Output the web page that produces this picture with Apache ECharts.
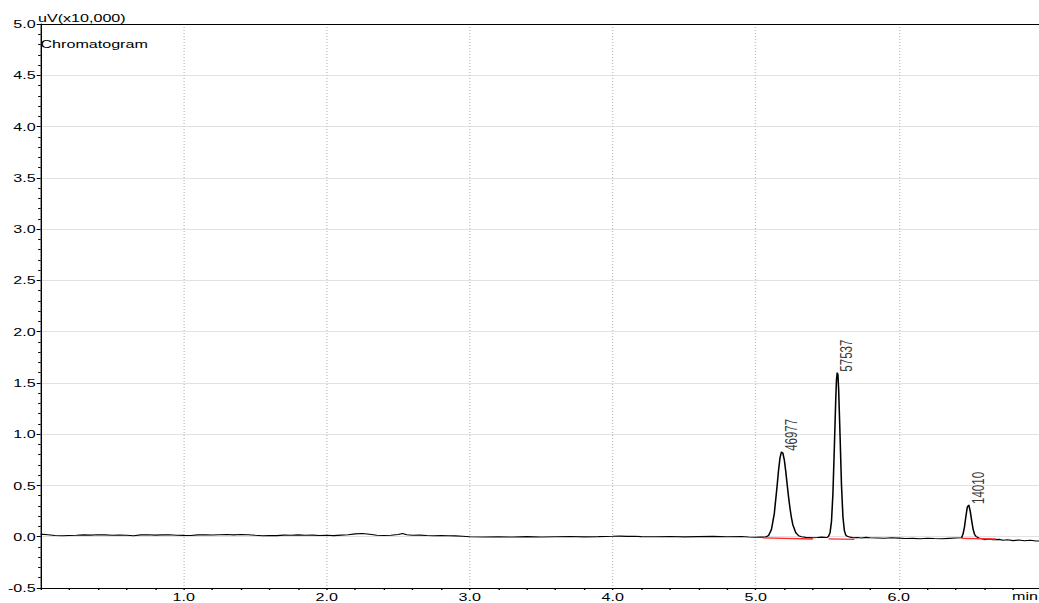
<!DOCTYPE html>
<html><head><meta charset="utf-8">
<script src="https://cdn.jsdelivr.net/npm/echarts@6/dist/echarts.min.js"></script>
<style>
html,body{margin:0;padding:0;background:#fff;overflow:hidden;}
#wrap{width:1039px;height:603px;overflow:hidden;position:relative;}
#chart{width:742px;height:603px;transform:scaleX(1.400270);transform-origin:0 0;}
</style></head><body>
<div id="wrap"><div id="chart"></div></div>
<script>
// ---- data (time in min, signal in uV x10,000) ----
const times = [
0.00,0.05,0.10,0.15,0.20,0.25,0.30,0.35,0.40,0.45,0.50,0.55,0.60,0.65,0.70,0.75,0.80,0.85,0.90,0.95,
1.00,1.05,1.10,1.15,1.20,1.25,1.30,1.35,1.40,1.45,1.50,1.55,1.60,1.65,1.70,1.75,1.80,1.85,1.90,1.95,
2.00,2.05,2.10,2.15,2.20,2.25,2.30,2.35,2.40,2.45,2.50,2.53,2.56,2.60,2.65,2.70,2.75,2.80,2.85,2.90,2.95,
3.00,3.10,3.20,3.30,3.40,3.50,3.60,3.70,3.80,3.90,
4.00,4.05,4.10,4.15,4.20,4.30,4.40,4.50,4.60,4.70,4.80,4.90,4.95,
5.00,5.03,5.05,5.07,5.09,5.11,5.13,5.15,5.16,5.17,5.18,5.19,5.20,5.21,5.22,5.23,5.24,5.25,5.26,5.28,5.30,5.32,5.35,
5.40,5.43,5.46,5.48,5.50,5.51,5.52,5.53,5.54,5.55,5.56,5.565,5.57,5.575,5.58,5.59,5.60,5.61,5.62,5.63,5.64,5.66,5.68,
5.71,5.74,5.77,5.80,5.85,5.90,5.95,
6.00,6.05,6.10,6.15,6.20,6.25,6.30,6.35,6.40,6.44,6.45,6.46,6.47,6.48,6.49,6.50,6.51,6.52,6.53,6.54,6.56,6.58,
6.60,6.63,6.66,6.70,6.73,6.76,6.80,6.84,6.88,6.92,6.96,7.00
];
const signal = [
0.025,0.020,0.012,0.010,0.012,0.014,0.018,0.016,0.020,0.018,0.015,0.017,0.014,0.010,0.018,0.020,0.016,0.018,0.020,0.015,
0.013,0.012,0.018,0.020,0.017,0.020,0.021,0.018,0.022,0.020,0.014,0.010,0.012,0.011,0.016,0.014,0.018,0.015,0.016,0.012,
0.014,0.011,0.016,0.020,0.028,0.032,0.024,0.015,0.012,0.014,0.022,0.032,0.020,0.014,0.016,0.012,0.010,0.012,0.009,0.008,0.004,
0.000,-0.002,0.000,-0.003,0.001,-0.002,0.000,0.002,-0.001,0.001,
0.004,0.006,0.003,0.005,0.001,0.000,0.002,-0.001,0.001,0.003,0.000,0.002,-0.002,
-0.005,-0.004,-0.004,-0.002,0.012,0.070,0.225,0.500,0.650,0.770,0.828,0.815,0.750,0.640,0.510,0.385,0.275,0.185,0.115,0.040,0.010,0.000,-0.006,
-0.010,-0.008,-0.004,-0.006,-0.008,0.006,0.040,0.150,0.420,0.870,1.350,1.530,1.600,1.580,1.440,0.980,0.500,0.195,0.060,0.015,0.004,-0.004,-0.010,
-0.008,-0.012,-0.006,-0.010,-0.012,-0.015,-0.010,
-0.014,-0.018,-0.016,-0.020,-0.015,-0.018,-0.020,-0.016,-0.012,-0.010,0.028,0.095,0.200,0.290,0.310,0.250,0.160,0.075,0.025,0.004,-0.012,-0.020,
-0.028,-0.022,-0.030,-0.026,-0.035,-0.030,-0.038,-0.032,-0.040,-0.035,-0.042,-0.040
];
// peak apex and area labels
const peakTimes   = [5.18, 5.57, 6.49];
const peakHeights = [0.828, 1.600, 0.310];
const peakAreas   = ['46977', '57537', '14010'];
// integration baselines: [startTime, startValue, endTime, endValue]
const peakBaselines = [
  [5.05, -0.012, 5.40, -0.022],
  [5.51, -0.020, 5.69, -0.026],
  [6.44, -0.016, 6.68, -0.022]
];
const xTickLabels = ['', '1.0', '2.0', '3.0', '4.0', '5.0', '6.0', ''];
const yLabelDecimals = 1;

// ---- layout (inner frame is stretched horizontally by S) ----
const S = 1039 / 742;
const ix = px => px / S;
const FONT = "'Liberation Sans', Arial, sans-serif";
const FS = 11.5;

const chart = echarts.init(document.getElementById('chart'), null, {renderer: 'svg'});

const redSeries = peakBaselines.map(b => ({
  type: 'line', data: [[b[0], b[1]], [b[2], b[3]]],
  symbol: 'none', silent: true, z: 5,
  lineStyle: {color: '#ff2a2a', width: 1.3}
}));

chart.setOption({
  animation: false,
  backgroundColor: '#fff',
  grid: {left: ix(40.7), top: 24, width: ix(1001), height: 564, containLabel: false, outerBoundsMode: 'none'},
  xAxis: [{
    type: 'value', min: 0, max: 7, interval: 1, position: 'bottom',
    axisLine: {show: true, onZero: false, lineStyle: {color: '#000', width: 1}},
    axisTick: {show: true, length: 2, lineStyle: {color: '#000'}},
    minorTick: {show: true, splitNumber: 5, length: 2, lineStyle: {color: '#000'}},
    axisLabel: {color: '#000', fontFamily: FONT, fontSize: FS, margin: 2.5,
      formatter: v => xTickLabels[Math.round(v)] || ''},
    splitLine: {show: true, lineStyle: {color: '#c4c4c4', type: [1, 2], width: 1}}
  }, {
    type: 'value', min: 0, max: 7, position: 'top',
    axisLine: {show: true, onZero: false, lineStyle: {color: '#000', width: 1}},
    axisTick: {show: false}, axisLabel: {show: false}, splitLine: {show: false}
  }],
  yAxis: {
    type: 'value', min: -0.5, max: 5, interval: 0.5,
    axisLine: {show: true, onZero: false, lineStyle: {color: '#000', width: 1}},
    axisTick: {show: true, length: ix(4), lineStyle: {color: '#000'}},
    minorTick: {show: true, splitNumber: 5, length: ix(2.5), lineStyle: {color: '#000'}},
    axisLabel: {color: '#000', fontFamily: FONT, fontSize: FS, margin: ix(5),
      formatter: v => v.toFixed(yLabelDecimals)},
    splitLine: {show: true, lineStyle: {color: '#e2e2e2', width: 1}}
  },
  graphic: [
    {type: 'text', x: ix(38), y: 18, style: {text: 'uV(x10,000)', font: FS + 'px ' + FONT, fill: '#000', align: 'left', verticalAlign: 'middle'}},
    {type: 'text', x: ix(40.5), y: 44, style: {text: 'Chromatogram', font: FS + 'px ' + FONT, fill: '#000', align: 'left', verticalAlign: 'middle'}},
    {type: 'text', x: ix(1038), y: 596, style: {text: 'min', font: FS + 'px ' + FONT, fill: '#000', align: 'right', verticalAlign: 'middle'}}
  ],
  series: [{
    type: 'line', data: times.map((t, i) => [t, signal[i]]),
    symbol: 'none', silent: true, z: 4,
    lineStyle: {color: '#000', width: 1.1}
  }].concat(redSeries).concat([{
    type: 'scatter', z: 6, silent: true,
    data: peakTimes.map((t, i) => [t, peakHeights[i], peakAreas[i]]),
    symbolSize: 2, itemStyle: {color: 'rgba(0,0,0,0)'},
    label: {show: true, formatter: p => p.data[2], position: [1 + ix(9.5), 0],
      rotate: 90, align: 'left', verticalAlign: 'middle',
      color: '#000', fontFamily: FONT, fontSize: FS}
  }])
});
</script>
</body></html>
